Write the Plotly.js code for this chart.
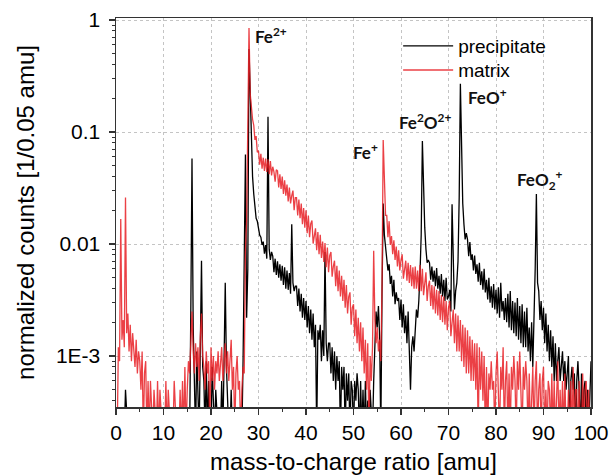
<!DOCTYPE html>
<html>
<head>
<meta charset="utf-8">
<script src="https://cdn.plot.ly/plotly-3.0.1.min.js"></script>
<style>html,body{margin:0;padding:0;background:#fff;}#chart{width:612px;height:475px;}</style>
</head>
<body>
<div id="chart"></div>
<script>
// mass-to-charge sampling: 0 .. 100 amu, 0.25 amu per sample
const massStart = 0;
const massStep = 0.25;

// precipitate (black), normalized counts; 2e-4 = below the plotted range
const precipitate = [
/*0*/ 2e-4,2e-4,2e-4,2e-4,
/*1*/ 2e-4,2e-4,2e-4,2e-4,
/*2*/ 5e-4,2e-4,2e-4,2e-4,
/*3*/ 2e-4,2e-4,2e-4,2e-4,
/*4*/ 2e-4,2e-4,2e-4,2e-4,
/*5*/ 2e-4,2e-4,2e-4,2e-4,
/*6*/ 2e-4,2e-4,2e-4,2e-4,
/*7*/ 2e-4,2e-4,2e-4,2e-4,
/*8*/ 2e-4,2e-4,2e-4,2e-4,
/*9*/ 2e-4,2e-4,2e-4,2e-4,
/*10*/ 2e-4,2e-4,2e-4,2e-4,
/*11*/ 2e-4,2e-4,2e-4,2e-4,
/*12*/ 2e-4,2e-4,2e-4,2e-4,
/*13*/ 2e-4,2e-4,2e-4,2e-4,
/*14*/ 2e-4,2e-4,2e-4,2e-4,
/*15*/ 2e-4,2e-4,2e-4,0.0025,
/*16*/ 0.058,0.0018,0.0008,2e-4,
/*17*/ 0.0011,0.0006,2e-4,0.0012,
/*18*/ 0.0071,0.0008,0.0006,2e-4,
/*19*/ 0.0009,2e-4,0.0006,2e-4,
/*20*/ 2e-4,0.0008,2e-4,2e-4,
/*21*/ 0.0005,2e-4,2e-4,2e-4,
/*22*/ 2e-4,0.0006,2e-4,0.0009,
/*23*/ 0.0045,0.0008,2e-4,2e-4,
/*24*/ 2e-4,0.0005,2e-4,2e-4,
/*25*/ 2e-4,2e-4,2e-4,2e-4,
/*26*/ 2e-4,2e-4,2e-4,0.0009,
/*27*/ 0.009,0.063,0.0022,0.006,
/*28*/ 0.55,0.2,0.07,0.04,
/*29*/ 0.028,0.021,0.017,0.016,
/*30*/ 0.014,0.012,0.0115,0.0098,
/*31*/ 0.0105,0.0082,0.0098,0.0074,
/*32*/ 0.137,0.009,0.0072,0.0085,
/*33*/ 0.0078,0.0056,0.0074,0.0053,
/*34*/ 0.0070,0.0050,0.0066,0.0047,
/*35*/ 0.0064,0.0043,0.0062,0.0040,
/*36*/ 0.0058,0.0039,0.0055,0.0036,
/*37*/ 0.015,0.0045,0.0038,0.0042,
/*38*/ 0.0042,0.0028,0.0040,0.0025,
/*39*/ 0.0036,0.0022,0.0033,0.0021,
/*40*/ 0.0031,0.0018,0.0028,0.0016,
/*41*/ 0.0026,0.0014,0.0024,0.0012,
/*42*/ 0.0019,2e-4,0.0017,0.0014,
/*43*/ 0.0019,0.0009,0.0017,0.0010,
/*44*/ 0.0085,0.0013,0.0009,0.0013,
/*45*/ 0.0013,0.0007,0.0012,0.0006,
/*46*/ 0.0011,0.0005,0.0010,0.0006,
/*47*/ 0.0009,2e-4,0.0008,0.0005,
/*48*/ 0.0008,2e-4,0.0007,0.0004,
/*49*/ 0.0007,2e-4,0.0006,0.0005,
/*50*/ 2e-4,0.0006,0.0004,0.0007,
/*51*/ 0.0005,2e-4,0.0006,2e-4,
/*52*/ 0.0005,2e-4,0.0006,2e-4,
/*53*/ 0.0004,2e-4,0.0005,2e-4,
/*54*/ 2e-4,0.0006,0.0012,0.0025,
/*55*/ 0.0018,0.0028,0.0015,2e-4,
/*56*/ 0.0035,0.023,0.012,0.0095,
/*57*/ 0.0085,0.0058,0.0066,0.0044,
/*58*/ 0.0052,0.0034,0.0048,0.0029,
/*59*/ 0.0037,0.0031,0.0033,0.0021,
/*60*/ 0.0032,0.0018,0.0029,0.0016,
/*61*/ 0.0023,0.0013,0.0025,0.0012,
/*62*/ 0.0005,0.0012,0.0015,0.0011,
/*63*/ 0.0019,0.0026,0.0022,0.0031,
/*64*/ 0.0055,0.012,0.083,0.025,
/*65*/ 0.014,0.009,0.0068,0.0072,
/*66*/ 0.0068,0.0048,0.0063,0.0046,
/*67*/ 0.0058,0.0042,0.0061,0.0040,
/*68*/ 0.0052,0.0036,0.0054,0.0034,
/*69*/ 0.0048,0.0031,0.0050,0.0032,
/*70*/ 0.0034,0.0039,0.0025,0.0227,
/*71*/ 0.0062,0.0026,0.0038,0.0045,
/*72*/ 0.007,0.026,0.27,0.06,
/*73*/ 0.023,0.015,0.011,0.0125,
/*74*/ 0.0110,0.0078,0.0104,0.0072,
/*75*/ 0.0081,0.0058,0.0079,0.0054,
/*76*/ 0.0066,0.0046,0.0068,0.0043,
/*77*/ 0.0057,0.0039,0.0060,0.0037,
/*78*/ 0.0048,0.0032,0.0050,0.0030,
/*79*/ 0.0042,0.0027,0.0044,0.0026,
/*80*/ 0.0039,0.0024,0.0041,0.0022,
/*81*/ 0.0045,0.0025,0.0031,0.0021,
/*82*/ 0.0033,0.0020,0.0036,0.0018,
/*83*/ 0.0038,0.0017,0.0031,0.0016,
/*84*/ 0.0030,0.0015,0.0033,0.0014,
/*85*/ 0.0028,0.0013,0.0029,0.0012,
/*86*/ 0.0025,0.0012,0.0027,0.0011,
/*87*/ 0.0018,0.0009,0.0020,0.0008,
/*88*/ 0.0021,0.006,0.028,0.0045,
/*89*/ 0.0038,0.0021,0.0031,0.0017,
/*90*/ 0.0027,0.0013,0.0024,0.0011,
/*91*/ 0.0019,0.0009,0.0017,0.0008,
/*92*/ 0.0015,0.0006,0.0013,0.0006,
/*93*/ 0.0009,0.0012,0.0006,0.0008,
/*94*/ 0.0011,0.0006,0.0009,0.0005,
/*95*/ 0.0007,0.0010,2e-4,0.0006,
/*96*/ 0.0008,0.0005,0.0007,2e-4,
/*97*/ 0.0006,0.0009,0.0005,2e-4,
/*98*/ 0.0007,2e-4,0.0005,0.0006,
/*99*/ 2e-4,0.0005,2e-4,0.0004,
/*100*/ 0.0009
];

// matrix (red), normalized counts; 2e-4 = below the plotted range
const matrix = [
/*0*/ 2e-4,2e-4,0.0012,0.0009,
/*1*/ 0.0167,0.0014,0.0021,0.0012,
/*2*/ 0.026,0.0016,0.0024,0.0011,
/*3*/ 0.0019,0.0009,0.0016,0.0012,
/*4*/ 0.0008,0.0014,0.0007,0.0011,
/*5*/ 0.0009,0.0005,0.0011,2e-4,
/*6*/ 0.0007,0.0009,2e-4,0.0006,
/*7*/ 2e-4,0.0006,2e-4,2e-4,
/*8*/ 0.0005,2e-4,2e-4,0.0006,
/*9*/ 2e-4,0.0005,2e-4,2e-4,
/*10*/ 2e-4,2e-4,0.0006,2e-4,
/*11*/ 0.0005,2e-4,2e-4,2e-4,
/*12*/ 2e-4,0.0006,2e-4,2e-4,
/*13*/ 2e-4,2e-4,0.0005,2e-4,
/*14*/ 0.0006,2e-4,0.0008,2e-4,
/*15*/ 0.0005,0.0009,0.0007,0.0012,
/*16*/ 0.0025,0.0011,0.0007,0.0013,
/*17*/ 0.0008,0.0012,0.0006,0.0015,
/*18*/ 0.0024,0.0010,0.0008,0.0005,
/*19*/ 0.0011,0.0007,0.0009,2e-4,
/*20*/ 0.0012,0.0006,0.0010,0.0005,
/*21*/ 0.0009,0.0007,0.0011,0.0006,
/*22*/ 0.0008,0.0012,0.0006,0.0010,
/*23*/ 0.0013,0.0007,0.0011,0.0006,
/*24*/ 0.0009,0.0014,0.0005,0.0008,
/*25*/ 2e-4,0.0007,0.0010,0.0005,
/*26*/ 0.0006,2e-4,0.0005,0.0008,
/*27*/ 0.0007,0.009,0.016,0.25,
/*28*/ 0.85,0.22,0.15,0.13,
/*29*/ 0.115,0.085,0.092,0.066,
/*30*/ 0.068,0.051,0.064,0.047,
/*31*/ 0.059,0.045,0.058,0.044,
/*32*/ 0.057,0.042,0.055,0.041,
/*33*/ 0.049,0.044,0.036,0.046,
/*34*/ 0.045,0.032,0.042,0.031,
/*35*/ 0.040,0.028,0.037,0.027,
/*36*/ 0.034,0.024,0.032,0.023,
/*37*/ 0.027,0.030,0.020,0.026,
/*38*/ 0.026,0.018,0.025,0.017,
/*39*/ 0.023,0.015,0.021,0.014,
/*40*/ 0.020,0.0125,0.018,0.0115,
/*41*/ 0.0152,0.0162,0.0101,0.0125,
/*42*/ 0.0138,0.0088,0.0128,0.0081,
/*43*/ 0.0121,0.0075,0.0105,0.0069,
/*44*/ 0.0102,0.0062,0.0093,0.0056,
/*45*/ 0.0079,0.0085,0.0051,0.0063,
/*46*/ 0.0071,0.0042,0.0064,0.0038,
/*47*/ 0.0058,0.0034,0.0052,0.0031,
/*48*/ 0.0048,0.0027,0.0043,0.0024,
/*49*/ 0.0034,0.0037,0.0019,0.0027,
/*50*/ 0.0029,0.0015,0.0026,0.0013,
/*51*/ 0.0022,0.0011,0.0020,0.0009,
/*52*/ 0.0018,0.0007,0.0014,0.0005,
/*53*/ 0.0013,2e-4,0.0010,0.0006,
/*54*/ 0.0012,0.0087,0.0021,0.0013,
/*55*/ 0.0018,0.0011,0.0014,0.0009,
/*56*/ 0.004,0.085,0.03,0.018,
/*57*/ 0.018,0.0115,0.016,0.0098,
/*58*/ 0.0118,0.0081,0.0108,0.0072,
/*59*/ 0.0095,0.0063,0.0088,0.0058,
/*60*/ 0.0072,0.0081,0.0049,0.0064,
/*61*/ 0.0071,0.0047,0.0068,0.0045,
/*62*/ 0.0065,0.0042,0.0062,0.0040,
/*63*/ 0.0063,0.0040,0.0058,0.0038,
/*64*/ 0.0065,0.0038,0.0060,0.0035,
/*65*/ 0.0049,0.0056,0.0031,0.0042,
/*66*/ 0.0047,0.0028,0.0043,0.0026,
/*67*/ 0.0042,0.0024,0.0039,0.0023,
/*68*/ 0.0038,0.0021,0.0035,0.0020,
/*69*/ 0.0034,0.0019,0.0031,0.0017,
/*70*/ 0.0027,0.0031,0.0015,0.0021,
/*71*/ 0.0026,0.0013,0.0024,0.0011,
/*72*/ 0.0023,0.0011,0.0021,0.0009,
/*73*/ 0.0019,0.0008,0.0018,0.0007,
/*74*/ 0.0017,0.0007,0.0015,0.0006,
/*75*/ 0.0014,0.0006,0.0013,0.0005,
/*76*/ 0.0013,2e-4,0.0012,0.0005,
/*77*/ 0.0011,0.0004,0.0010,2e-4,
/*78*/ 0.0008,2e-4,0.0007,0.0005,
/*79*/ 0.0009,0.0005,0.0006,2e-4,
/*80*/ 0.0007,0.0011,0.0005,2e-4,
/*81*/ 0.0008,0.0005,0.0012,2e-4,
/*82*/ 0.0006,0.0009,2e-4,0.0007,
/*83*/ 2e-4,0.0008,0.0005,0.0010,
/*84*/ 0.0006,2e-4,0.0009,0.0005,
/*85*/ 0.0011,0.0006,2e-4,0.0008,
/*86*/ 0.0005,0.0009,0.0006,2e-4,
/*87*/ 0.0007,2e-4,0.0005,0.0008,
/*88*/ 2e-4,0.0006,0.0009,2e-4,
/*89*/ 0.0005,0.0007,2e-4,0.0006,
/*90*/ 0.0008,2e-4,0.0005,2e-4,
/*91*/ 0.0006,0.0005,2e-4,0.0007,
/*92*/ 2e-4,0.0006,2e-4,0.0005,
/*93*/ 0.0009,2e-4,0.0005,2e-4,
/*94*/ 0.0006,2e-4,0.0007,2e-4,
/*95*/ 2e-4,0.0005,2e-4,0.0006,
/*96*/ 2e-4,0.0008,2e-4,0.0005,
/*97*/ 0.0005,2e-4,0.0006,2e-4,
/*98*/ 2e-4,0.0007,2e-4,0.0005,
/*99*/ 0.0006,2e-4,0.0005,2e-4,
/*100*/ 2e-4
];

const seriesNames = ['precipitate', 'matrix'];
const yTickVals = [0.001, 0.01, 0.1, 1];
const yTickText = ['1E-3', '0.01', '0.1', '1'];
const peakLabels = ['Fe<sup>2+</sup>', 'Fe<sup>+</sup>', 'Fe<sup>2</sup>O<sup>2+</sup>', 'FeO<sup>+</sup>', 'FeO<sub>2</sub><sup>+</sup>'];

function massAxis(n) {
  const m = [];
  for (let i = 0; i < n; i++) m.push(massStart + i * massStep);
  return m;
}

const minorY = [];
for (let d = -4; d <= 0; d++) {
  for (let k = 2; k <= 9; k++) minorY.push(k * Math.pow(10, d));
}

const traces = [
  {x: massAxis(precipitate.length), y: precipitate, name: seriesNames[0], type: 'scatter', mode: 'lines',
   line: {color: '#000000', width: 1.3}, legend: 'legend'},
  {x: massAxis(matrix.length), y: matrix, name: seriesNames[1], type: 'scatter', mode: 'lines',
   line: {color: 'rgba(232,30,36,0.85)', width: 1.3}, legend: 'legend2'}
];

const labelPos = [[0.326, 0.956], [0.526, 0.656], [0.651, 0.733], [0.783, 0.797], [0.893, 0.584]];
const annotations = peakLabels.map((t, i) => ({
  text: '<b>' + t + '</b>', xref: 'paper', yref: 'paper', x: labelPos[i][0], y: labelPos[i][1],
  xanchor: 'center', yanchor: 'middle',
  showarrow: false, font: {family: 'Lato, Liberation Sans, sans-serif', size: 17, color: '#111', weight: 'bold'}
}));

const axisFont = {family: 'Liberation Sans, Arial, sans-serif', size: 21, color: '#000'};
const legendFont = {family: 'Liberation Sans, Arial, sans-serif', size: 19, color: '#000'};

const layout = {
  width: 612, height: 475,
  margin: {l: 116, r: 21, t: 18, b: 68},
  paper_bgcolor: '#fff', plot_bgcolor: '#fff',
  showlegend: true,
  legend: {x: 0.594, y: 0.928, xanchor: 'left', yanchor: 'middle', bgcolor: 'rgba(0,0,0,0)',
           font: legendFont, itemwidth: 50},
  legend2: {x: 0.594, y: 0.866, xanchor: 'left', yanchor: 'middle', bgcolor: 'rgba(0,0,0,0)',
           font: legendFont, itemwidth: 50},
  xaxis: {
    range: [0, 100], tickmode: 'linear', tick0: 0, dtick: 10,
    ticks: 'outside', ticklen: 6, tickwidth: 1.2, tickcolor: '#333',
    minor: {dtick: 5, ticks: 'outside', ticklen: 3, tickwidth: 1.2, tickcolor: '#333', showgrid: false},
    showline: true, linecolor: '#333', linewidth: 1.5, mirror: true,
    showgrid: true, gridcolor: '#c4c4c4', griddash: 'dot', gridwidth: 1,
    zeroline: false, tickfont: axisFont,
    title: {text: 'mass-to-charge ratio [amu]', font: {family: 'Liberation Sans, Arial, sans-serif', size: 24, color: '#000'}, standoff: 10}
  },
  yaxis: {
    type: 'log', range: [-3.455, 0.018],
    tickmode: 'array', tickvals: yTickVals, ticktext: yTickText,
    ticks: 'outside', ticklen: 6, tickwidth: 1.2, tickcolor: '#333',
    minor: {tickmode: 'array', tickvals: minorY, ticks: 'outside', ticklen: 3, tickwidth: 1, tickcolor: '#333', showgrid: false},
    showline: true, linecolor: '#333', linewidth: 1.5, mirror: true,
    showgrid: true, gridcolor: '#c4c4c4', griddash: 'dot', gridwidth: 1,
    zeroline: false, tickfont: axisFont, ticklabelstandoff: 4,
    title: {text: 'normalized counts [1/0.05 amu]', font: {family: 'Liberation Sans, Arial, sans-serif', size: 24, color: '#000'}, standoff: 14}
  },
  annotations: annotations
};

Plotly.newPlot('chart', traces, layout, {displayModeBar: false, staticPlot: true});
</script>
</body>
</html>
